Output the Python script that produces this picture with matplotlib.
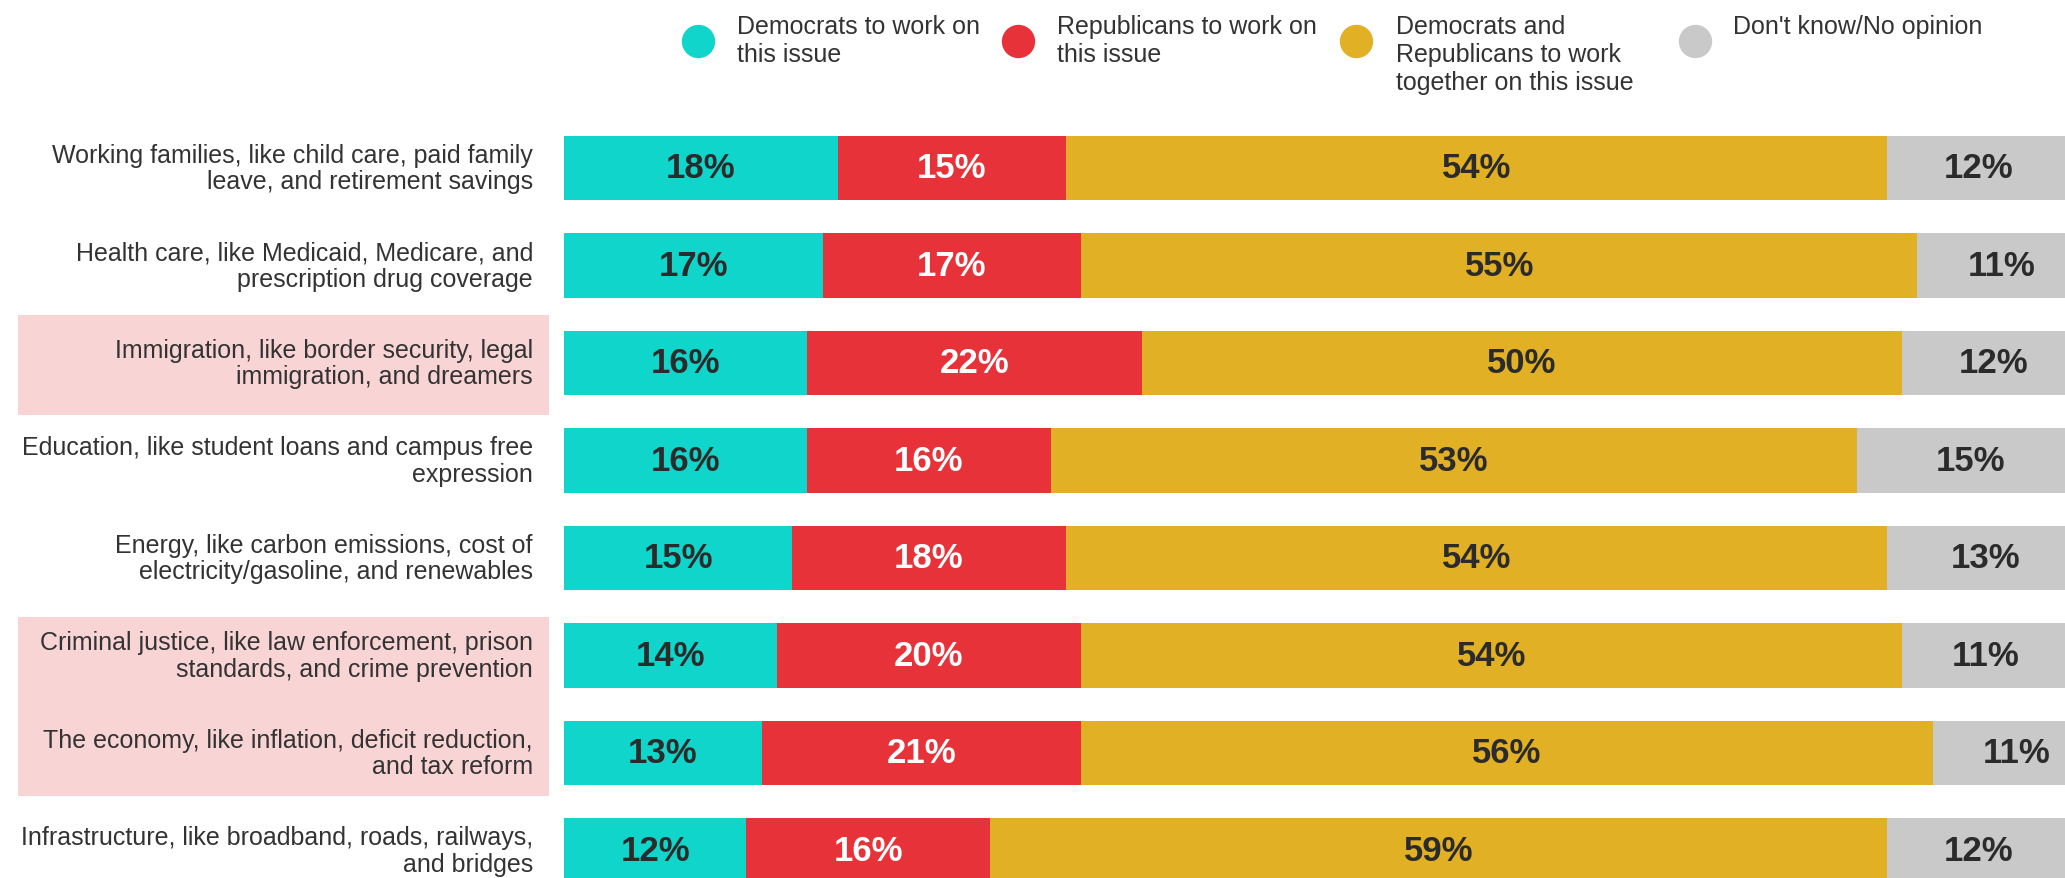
import matplotlib
matplotlib.use('Agg')
import matplotlib.pyplot as plt
from matplotlib.patches import Rectangle
from matplotlib.lines import Line2D
import numpy as np

plt.rcParams['font.family'] = ['Liberation Sans', 'DejaVu Sans']

categories = [
    "Working families, like child care, paid family\nleave, and retirement savings",
    "Health care, like Medicaid, Medicare, and\nprescription drug coverage",
    "Immigration, like border security, legal\nimmigration, and dreamers",
    "Education, like student loans and campus free\nexpression",
    "Energy, like carbon emissions, cost of\nelectricity/gasoline, and renewables",
    "Criminal justice, like law enforcement, prison\nstandards, and crime prevention",
    "The economy, like inflation, deficit reduction,\nand tax reform",
    "Infrastructure, like broadband, roads, railways,\nand bridges",
]
democrats = [18, 17, 16, 16, 15, 14, 13, 12]
republicans = [15, 17, 22, 16, 18, 20, 21, 16]
together = [54, 55, 50, 53, 54, 54, 56, 59]
dont_know = [12, 11, 12, 15, 13, 11, 11, 12]
highlighted = [2, 5, 6]

series_names = ["Democrats to work on\nthis issue",
                "Republicans to work on\nthis issue",
                "Democrats and\nRepublicans to work\ntogether on this issue",
                "Don't know/No opinion"]
colors = ["#10D5CB", "#E83239", "#E1B024", "#C9C9C9"]
text_colors = ["#2b2b2b", "white", "#2b2b2b", "#2b2b2b"]

W, H = 2065, 879
fig = plt.figure(figsize=(W / 100, H / 100), dpi=100)
ax_left = 564 / W
ax = fig.add_axes([ax_left, 0, 1 - ax_left, 1])

data = np.array([democrats, republicans, together, dont_know], dtype=float)
y = np.arange(len(categories))

left = np.zeros(len(categories))
for k in range(4):
    ax.barh(y, data[k], left=left, height=0.66, color=colors[k], edgecolor='none')
    for i in range(len(categories)):
        ax.text(left[i] + data[k][i] / 2, y[i], f"{int(data[k][i])}%",
                ha='center', va='center', fontsize=25, fontweight='bold',
                color=text_colors[k])
    left += data[k]

# the right end of the chart is cropped, the last segment runs off the edge
ax.set_xlim(0, 98.7)
ax.set_ylim(7.282, -1.733)
ax.axis('off')

# pink highlight behind some labels (consecutive rows merged)
trans = ax.get_yaxis_transform()
groups = []
for h in highlighted:
    if groups and groups[-1][1] == h - 1:
        groups[-1][1] = h
    else:
        groups.append([h, h])
for a, b in groups:
    if a == b:
        top, bot = a - 0.49, b + 0.53
    else:
        top, bot = a - 0.39, b + 0.44
    ax.add_patch(Rectangle((-0.3638, top), 0.3538, bot - top, transform=trans,
                           facecolor="#F9D4D4", edgecolor='none', clip_on=False, zorder=0))

for i, lab in enumerate(categories):
    ax.text(-0.0207, y[i], lab, transform=trans, ha='right', va='center',
            multialignment='right', fontsize=18, color="#333333", linespacing=1.15)

# legend
circle_x = [698, 1018, 1356, 1695]
text_x = [737, 1057, 1396, 1733]
for k in range(4):
    fig.add_artist(Line2D([circle_x[k] / W], [1 - 42 / H], marker='o', markersize=23,
                          color=colors[k], linestyle='none', transform=fig.transFigure))
    fig.text(text_x[k] / W, 1 - 15 / H, series_names[k], ha='left', va='top',
             fontsize=18, color="#333333", linespacing=1.22)

fig.savefig("out.png", dpi=100, facecolor='white')
